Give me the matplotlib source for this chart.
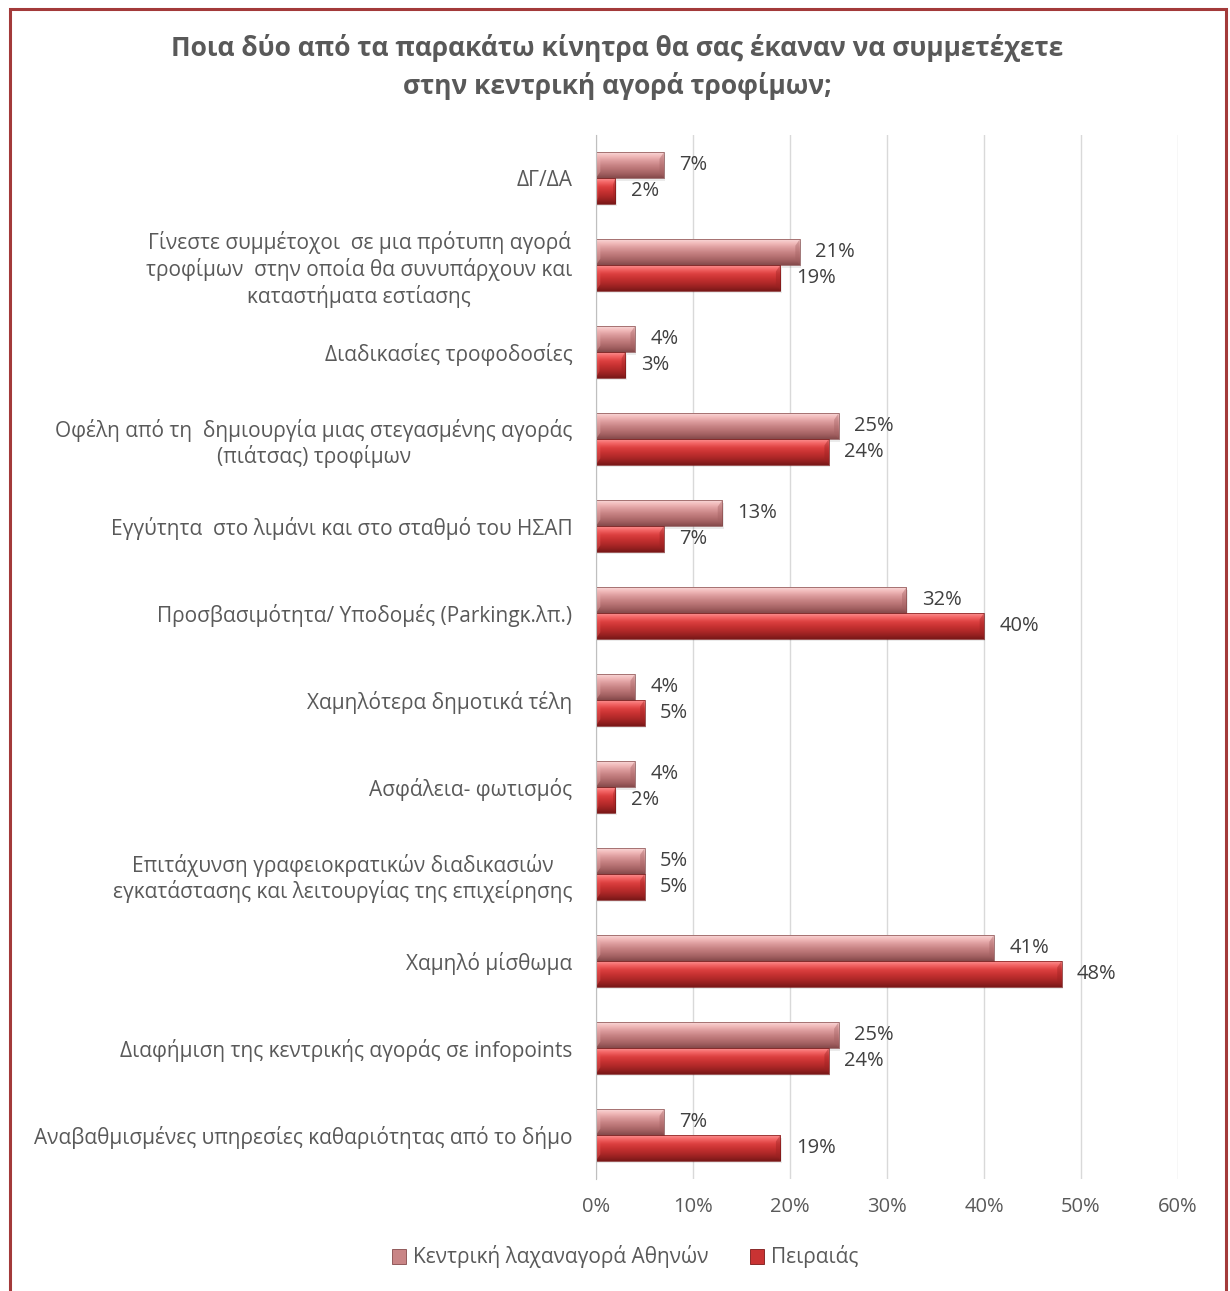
import matplotlib
matplotlib.use("Agg")
import matplotlib.pyplot as plt
import numpy as np
from matplotlib.colors import LinearSegmentedColormap
from matplotlib.patches import Rectangle, Patch

plt.rcParams['font.family'] = ['Open Sans', 'DejaVu Sans']

title = "Ποια δύο από τα παρακάτω κίνητρα θα σας έκαναν να συμμετέχετε\nστην κεντρική αγορά τροφίμων;"

categories = [
    "ΔΓ/ΔΑ",
    "Γίνεστε συμμέτοχοι  σε μια πρότυπη αγορά\nτροφίμων  στην οποία θα συνυπάρχουν και\nκαταστήματα εστίασης",
    "Διαδικασίες τροφοδοσίες",
    "Οφέλη από τη  δημιουργία μιας στεγασμένης αγοράς\n(πιάτσας) τροφίμων",
    "Εγγύτητα  στο λιμάνι και στο σταθμό του ΗΣΑΠ",
    "Προσβασιμότητα/ Υποδομές (Parkingκ.λπ.)",
    "Χαμηλότερα δημοτικά τέλη",
    "Ασφάλεια- φωτισμός",
    "Επιτάχυνση γραφειοκρατικών διαδικασιών\nεγκατάστασης και λειτουργίας της επιχείρησης",
    "Χαμηλό μίσθωμα",
    "Διαφήμιση της κεντρικής αγοράς σε infopoints",
    "Αναβαθμισμένες υπηρεσίες καθαριότητας από το δήμο",
]

series_names = ["Κεντρική λαχαναγορά Αθηνών", "Πειραιάς"]
athens = [7, 21, 4, 25, 13, 32, 4, 4, 5, 41, 25, 7]
piraeus = [2, 19, 3, 24, 7, 40, 5, 2, 5, 48, 24, 19]

x_ticks = [0, 10, 20, 30, 40, 50, 60]

# vertical colour ramps (top -> bottom) giving the bars a bevelled look
ramps = [
    ["#f9d8d8", "#f0b8b8", "#dc9c9d", "#c98586", "#b77273", "#a26061", "#854a4b"],
    ["#fb9090", "#f26262", "#dc4040", "#c93333", "#b42a2a", "#9a2222", "#7a1818"],
]
mid_colors = ["#c98586", "#c93333"]

fig = plt.figure(figsize=(12.3, 12.91), dpi=100)
W, H = 1230, 1291
ax = fig.add_axes([596 / W, 1 - 1178.5 / H, (1178 - 596) / W, (1178.5 - 134.5) / H])

n = len(categories)
y = np.arange(n)
h = 0.295

for si, vals in enumerate([athens, piraeus]):
    cmap = LinearSegmentedColormap.from_list(f"r{si}", ramps[si])
    grad = np.linspace(0, 1, 64).reshape(-1, 1)
    offs = -h if si == 0 else 0.0
    bars = ax.barh(y + offs, vals, height=h, align='edge', color='none',
                   edgecolor='none', zorder=3)
    for b, v in zip(bars, vals):
        y0 = b.get_y()
        # soft drop shadow
        ax.add_patch(Rectangle((0.15, y0 + 0.03), v, h, facecolor='#000000',
                               alpha=0.08, edgecolor='none', zorder=2))
        im = ax.imshow(grad, cmap=cmap, aspect='auto', origin='upper',
                       extent=(0, v, y0 + h, y0), zorder=3, interpolation='bilinear')
        im.set_clip_path(b)
        # bevelled ends
        bev = min(0.45, v * 0.12)
        ax.fill([v - bev, v, v, v - bev], [y0 + h * 0.25, y0, y0 + h, y0 + h * 0.75],
                color=ramps[si][5], alpha=0.40, zorder=4, lw=0)
        ax.fill([0, bev, bev, 0], [y0, y0 + h * 0.25, y0 + h * 0.75, y0 + h],
                color=ramps[si][1], alpha=0.35, zorder=4, lw=0)
        ax.add_patch(Rectangle((0, y0), v, h, facecolor='none',
                               edgecolor=ramps[si][6], lw=0.5, zorder=5))
        ax.text(v + 1.6, y0 + h / 2, f"{v}%", va='center', ha='left',
                fontsize=14.5, color='#404040', zorder=6)

ax.set_xlim(0, 60)
ax.set_ylim(n - 0.5, -0.5)
ax.set_xticks(x_ticks)
ax.set_xticklabels([f"{t}%" for t in x_ticks], fontsize=14.5, color='#595959')
ax.set_yticks(y)
ax.set_yticklabels(categories, fontsize=15, color='#595959', ha='right',
                   multialignment='center', linespacing=1.22)
ax.tick_params(axis='both', length=0)
ax.tick_params(axis='y', pad=17)
ax.tick_params(axis='x', pad=13)
ax.grid(axis='x', color='#d9d9d9', lw=1, zorder=0)
ax.set_axisbelow(True)
for s in ['top', 'right', 'bottom']:
    ax.spines[s].set_visible(False)
ax.spines['left'].set_color('#bfbfbf')
ax.spines['left'].set_zorder(6)

fig.text(617 / W, 1 - 67 / H, title, ha='center', va='center', fontsize=19,
         fontweight='bold', color='#595959', linespacing=1.45)

handles = [Patch(facecolor=mid_colors[i], edgecolor=ramps[i][6], lw=0.6)
           for i in range(2)]
fig.legend(handles, series_names, loc='center', bbox_to_anchor=(625 / W, 1 - 1257 / H),
           ncol=2, frameon=False, fontsize=15, handlelength=0.7, handleheight=0.7,
           handletextpad=0.3, columnspacing=2.0, labelcolor='#595959')

# chart frame
fig.patches.append(Rectangle((10 / W, -0.01), (1226 - 10) / W, 1.01 - 9 / H,
                             transform=fig.transFigure, facecolor='none',
                             edgecolor='#a33a3a', lw=2.2))

fig.savefig("out.png", dpi=100)
